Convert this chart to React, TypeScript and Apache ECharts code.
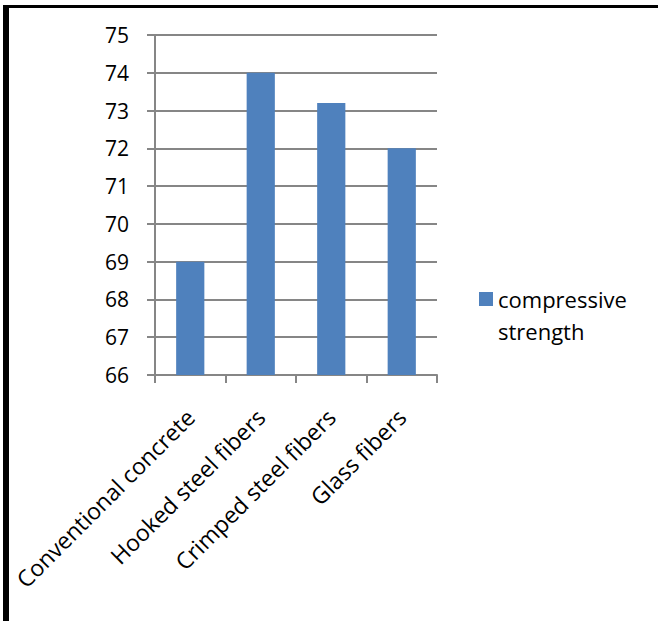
import React, { useEffect, useRef } from "react";
import * as echarts from "echarts";

// Compressive strength by concrete mix
const categories = [
  "Conventional concrete",
  "Hooked steel fibers",
  "Crimped steel fibers",
  "Glass fibers",
];
const strengthValues = [69, 74, 73.2, 72];
const seriesName = "compressive strength";
const yMin = 66;
const yMax = 75;
const yStep = 1;

const FONT = "'Open Sans', 'Liberation Sans', sans-serif";
const AXIS_GRAY = "#868686";
const BAR_BLUE = "#4F81BD";

// Legend swatch: a 14x14 square at the top of a 14x46 box, so it sits
// beside the first line of the two-line legend label.
const LEGEND_ICON = "path://M0,0L14,0L14,14L0,14Z M0,46L0,46";

export default function App() {
  const ref = useRef<HTMLDivElement>(null);

  useEffect(() => {
    if (!ref.current) return;
    const chart = echarts.init(ref.current, null, { renderer: "svg" });
    chart.setOption({
      animation: false,
      backgroundColor: "#ffffff",
      textStyle: { fontFamily: FONT, color: "#000" },
      grid: { left: 155, right: 221, top: 35, bottom: 246, containLabel: false },
      legend: {
        left: 474,
        top: 278,
        orient: "vertical",
        icon: LEGEND_ICON,
        itemWidth: 14,
        itemHeight: 46,
        selectedMode: false,
        formatter: () => "compressive\nstrength",
        textStyle: {
          fontFamily: FONT,
          fontSize: 22,
          color: "#000",
          lineHeight: 32,
        },
        data: [seriesName],
      },
      xAxis: {
        type: "category",
        data: categories,
        boundaryGap: true,
        axisLine: { lineStyle: { color: AXIS_GRAY, width: 2 } },
        axisTick: { show: true, length: 8, lineStyle: { color: AXIS_GRAY, width: 2 } },
        axisLabel: {
          rotate: 45,
          interval: 0,
          margin: 38,
          fontFamily: FONT,
          fontSize: 23,
          color: "#000",
        },
      },
      yAxis: {
        type: "value",
        min: yMin,
        max: yMax,
        interval: yStep,
        axisLine: { show: true, lineStyle: { color: AXIS_GRAY, width: 2 } },
        axisTick: { show: true, length: 8, lineStyle: { color: AXIS_GRAY, width: 2 } },
        splitLine: { show: true, lineStyle: { color: AXIS_GRAY, width: 2 } },
        axisLabel: {
          margin: 26,
          fontFamily: FONT,
          fontSize: 21,
          color: "#000",
        },
      },
      series: [
        {
          name: seriesName,
          type: "bar",
          data: strengthValues,
          barWidth: "40%",
          itemStyle: { color: BAR_BLUE },
        },
      ],
      graphic: [
        // frame around the figure (top and left edges)
        {
          type: "rect",
          shape: { x: 3, y: 5, width: 655, height: 3 },
          style: { fill: "#000" },
          z: 100,
        },
        {
          type: "rect",
          shape: { x: 3, y: 5, width: 6, height: 616 },
          style: { fill: "#000" },
          z: 100,
        },
      ],
    });
    return () => chart.dispose();
  }, []);

  return (
    <div
      ref={ref}
      style={{ position: "fixed", left: 0, top: 0, width: 658, height: 621 }}
    />
  );
}
